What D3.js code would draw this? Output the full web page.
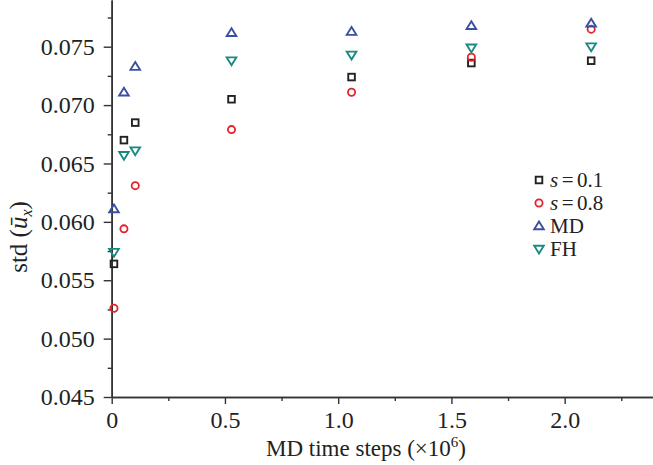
<!DOCTYPE html>
<html><head><meta charset="utf-8">
<script src="https://cdn.jsdelivr.net/npm/d3@7"></script>
<style>body{margin:0;background:#fff}svg{display:block}text{font-family:"Liberation Serif","Times New Roman",serif;fill:#222}</style>
</head><body><svg id="c" width="653" height="465"></svg>
<script>
const xS01 = [0.01, 0.054, 0.104, 0.529, 1.059, 1.588, 2.117];
const s01 = [0.0564, 0.0670, 0.0685, 0.0705, 0.0724, 0.0736, 0.0738];
const s08 = [0.0526, 0.0594, 0.0631, 0.0679, 0.0711, 0.0741, 0.0765];
const md  = [0.0611, 0.0711, 0.0733, 0.0762, 0.0763, 0.0768, 0.0770];
const fh  = [0.0574, 0.0657, 0.0661, 0.0738, 0.0743, 0.0749, 0.0750];
const xTicks = [0, 0.5, 1.0, 1.5, 2.0];
const xTickLabels = ["0", "0.5", "1.0", "1.5", "2.0"];
const xMinor = [0.25, 0.75, 1.25, 1.75, 2.25];
const yTicks = [0.045, 0.050, 0.055, 0.060, 0.065, 0.070, 0.075];
const yMinor = [0.0475, 0.0525, 0.0575, 0.0625, 0.0675, 0.0725, 0.0775];
const seriesNames = ["s=0.1", "s=0.8", "MD", "FH"];

const svg = d3.select("#c");
const x = d3.scaleLinear().domain([0, 2.39]).range([111.7, 653]);
const y = d3.scaleLinear().domain([0.045, 0.079]).range([397, 0]);
const axisCol = "#333";
const FF = "'Liberation Serif', 'Times New Roman', serif";

// x axis
const gx = svg.append("g").attr("transform", "translate(0,397)");
gx.call(d3.axisBottom(x).tickValues(xTicks).tickFormat((d,i)=>xTickLabels[i]).tickSize(7).tickPadding(7).tickSizeOuter(0));
gx.append("g").call(d3.axisBottom(x).tickValues(xMinor).tickFormat("").tickSize(4).tickSizeOuter(0));
// y axis
const gy = svg.append("g").attr("transform", "translate(111.7,0)");
gy.call(d3.axisLeft(y).tickValues(yTicks).tickFormat(d3.format(".3f")).tickSize(8).tickPadding(9).tickSizeOuter(0));
gy.append("g").call(d3.axisLeft(y).tickValues(yMinor).tickFormat("").tickSize(4).tickSizeOuter(0));
svg.selectAll("g").attr("font-family", null);
svg.selectAll(".domain").attr("stroke", axisCol).attr("stroke-width", 1.6);
svg.selectAll(".tick line").attr("stroke", axisCol).attr("stroke-width", 1.4);
svg.selectAll(".tick text").style("font-family", FF).style("font-size", "24px").attr("fill", "#222");

// markers
const col = {sq:"#222", ci:"#e3222b", tu:"#3b4fa2", td:"#1a8a80"};
function marker(g, type, cx, cy) {
  if (type === "sq") g.append("rect").attr("x", cx-3.3).attr("y", cy-3.3).attr("width", 6.6).attr("height", 6.6)
      .attr("fill","none").attr("stroke", col.sq).attr("stroke-width", 1.9);
  else if (type === "ci") g.append("circle").attr("cx", cx).attr("cy", cy).attr("r", 3.6)
      .attr("fill","none").attr("stroke", col.ci).attr("stroke-width", 1.8);
  else if (type === "tu") g.append("path").attr("d", `M${cx},${cy-4.5}L${cx+4.8},${cy+3.3}L${cx-4.8},${cy+3.3}Z`)
      .attr("fill","none").attr("stroke", col.tu).attr("stroke-width", 1.9);
  else g.append("path").attr("d", `M${cx},${cy+4.5}L${cx+4.8},${cy-3.3}L${cx-4.8},${cy-3.3}Z`)
      .attr("fill","none").attr("stroke", col.td).attr("stroke-width", 1.9);
}
const series = [["sq", s01], ["ci", s08], ["tu", md], ["td", fh]];
const gp = svg.append("g");
series.forEach(([t, vals]) => vals.forEach((v, i) => marker(gp, t, x(xS01[i]), y(v))));

// legend
const lg = svg.append("g");
const ly = [180, 203, 226, 249];
series.forEach(([t], i) => marker(lg, t, 539, ly[i]));
const lt = lg.selectAll("text.l").data(seriesNames).enter().append("text")
  .attr("x", 550).attr("y", (d,i)=>ly[i]+7).style("font-size", "21px");
lt.each(function(d){
  const t = d3.select(this);
  if (d.startsWith("s=")) {
    t.append("tspan").attr("font-style","italic").text("s");
    t.append("tspan").text("\u2006=\u2006" + d.slice(2));
  } else t.text(d);
});

// axis titles
const xt = svg.append("text").attr("x", 366).attr("y", 456).attr("text-anchor","middle").style("font-size", "23px");
xt.append("tspan").text("MD time steps (\u00d710");
xt.append("tspan").attr("dy", -9).style("font-size", "15px").text("6");
xt.append("tspan").attr("dy", 9).text(")");

const yt = svg.append("text").attr("transform", "translate(27,237) rotate(-90)").attr("text-anchor","middle").style("font-size", "25px");
yt.append("tspan").text("std (");
yt.append("tspan").attr("font-style","italic").text("\u016b");
yt.append("tspan").attr("font-style","italic").style("font-size", "16px").attr("dy", 5).text("x");
yt.append("tspan").attr("dy", -5).text(")");
</script></body></html>
